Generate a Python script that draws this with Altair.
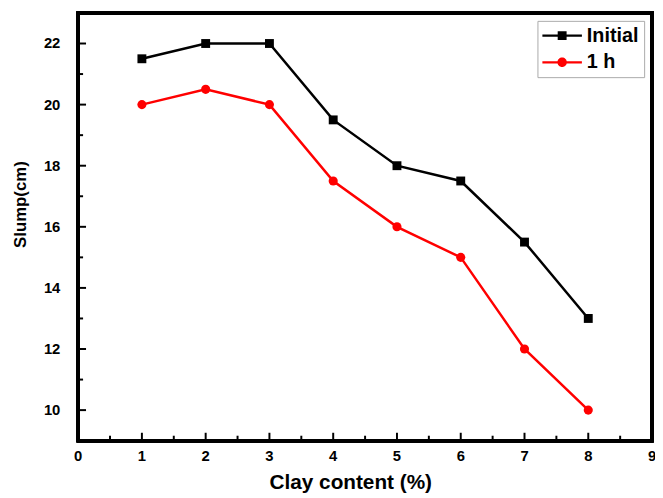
import altair as alt
import pandas as pd

# ---- data ----
clay = [1, 2, 3, 4, 5, 6, 7, 8]
initial = [21.5, 22, 22, 19.5, 18, 17.5, 15.5, 13]
one_h = [20, 20.5, 20, 17.5, 16, 15, 12, 10]
series_names = ["Initial", "1 h"]
series_colors = ["#000000", "#ff0000"]

x_label_values = [0, 1, 2, 3, 4, 5, 6, 7, 8, 9]
x_minor_values = [0.5, 1.5, 2.5, 3.5, 4.5, 5.5, 6.5, 7.5, 8.5]
y_label_values = [10, 12, 14, 16, 18, 20, 22]
y_minor_values = [11, 13, 15, 17, 19, 21, 23]
x_title = ["Clay content (%)"]
y_title = ["Slump(cm)"]

df = pd.DataFrame({
    "clay": clay + clay,
    "slump": initial + one_h,
    "series": ["Initial"] * len(clay) + ["1 h"] * len(clay),
})
df["lg"] = df["series"]

FONT = "Liberation Sans"
W, H = 581, 433

xs = alt.Scale(domain=[0, 9], nice=False, zero=False)
ys = alt.Scale(domain=[9, 23], nice=False, zero=False)
cs = alt.Scale(domain=series_names, range=series_colors)

# legend symbols: line segment with marker in the middle
sym_square = "M-1,-0.12H3V0.12H-1Z M0.55,-0.45H1.45V0.45H0.55Z"
sym_circle = "M-1,-0.12H3V0.12H-1Z M1.48,0A0.48,0.48 0 1,1 0.52,0A0.48,0.48 0 1,1 1.48,0Z"

leg = alt.Legend(
    title=None, orient="none", legendX=465, legendY=8,
    symbolSize=400, symbolOpacity=1, symbolStrokeWidth=0,
    labelFont=FONT, labelFontSize=20, labelFontWeight="bold", labelColor="black",
    labelOffset=25, rowPadding=7, padding=5, labelLimit=300,
    strokeColor="#aaaaaa", fillColor="white",
)

X = alt.X("clay:Q", scale=xs, axis=None)
Y = alt.Y("slump:Q", scale=ys, axis=None)

base = alt.Chart(df)

frame = base.mark_rect(fill=None, stroke="black", strokeWidth=3).encode(
    x=alt.value(0), x2=alt.value(W), y=alt.value(0), y2=alt.value(H)
)

lines = base.mark_line(strokeWidth=2.5).encode(
    x=X, y=Y,
    color=alt.Color("series:N", scale=cs, legend=None),
    order="clay:Q",
)

squares = base.transform_filter(alt.datum.series == "Initial").mark_square(
    size=81, opacity=1
).encode(
    x=X, y=Y,
    color=alt.Color("series:N", scale=cs, legend=None),
)

circles = base.transform_filter(alt.datum.series == "1 h").mark_circle(
    size=85, opacity=1
).encode(
    x=X, y=Y,
    color=alt.Color("series:N", scale=cs, legend=None),
)


def xticks(values, length):
    return alt.Chart(pd.DataFrame({"v": values})).mark_rule(
        color="black", strokeWidth=2
    ).encode(
        x=alt.X("v:Q", scale=xs, axis=None),
        y=alt.value(H), y2=alt.value(H - length),
    )


def yticks(values, length):
    return alt.Chart(pd.DataFrame({"v": values})).mark_rule(
        color="black", strokeWidth=2
    ).encode(
        y=alt.Y("v:Q", scale=ys, axis=None),
        x=alt.value(0), x2=alt.value(length),
    )


x_labels = alt.Chart(pd.DataFrame({"xl": x_label_values})).mark_text(
    font=FONT, fontSize=15, fontWeight="bold", color="black",
    align="center", baseline="top",
).encode(
    x=alt.X("xl:Q", scale=xs, axis=None), y=alt.value(H + 9),
    text=alt.Text("xl:Q", format="d"),
)

y_labels = alt.Chart(pd.DataFrame({"yl": y_label_values})).mark_text(
    font=FONT, fontSize=15, fontWeight="bold", color="black",
    align="right", baseline="middle",
).encode(
    y=alt.Y("yl:Q", scale=ys, axis=None), x=alt.value(-18),
    text=alt.Text("yl:Q", format="d"),
)

x_title_layer = alt.Chart(pd.DataFrame({"t": x_title})).mark_text(
    font=FONT, fontSize=21, fontWeight="bold", color="black",
    align="center", baseline="middle",
).encode(
    x=alt.value(276), y=alt.value(H + 43), text="t:N",
)

y_title_layer = alt.Chart(pd.DataFrame({"t": y_title})).mark_text(
    font=FONT, fontSize=17, fontWeight="bold", color="black",
    align="center", baseline="middle", angle=270,
).encode(
    x=alt.value(-58), y=alt.value(194), text="t:N",
)

legend_layer = base.mark_point(filled=True, opacity=0, size=400).encode(
    x=X, y=Y,
    color=alt.Color("lg:N", scale=alt.Scale(domain=series_names, range=series_colors),
                    legend=leg),
    shape=alt.Shape("lg:N",
                    scale=alt.Scale(domain=series_names, range=[sym_square, sym_circle]),
                    legend=leg),
)

chart = alt.layer(
    lines, squares, circles,
    xticks(x_label_values, 8), xticks(x_minor_values, 5),
    yticks(y_label_values, 8), yticks(y_minor_values, 5),
    frame, x_labels, y_labels, x_title_layer, y_title_layer, legend_layer,
).resolve_scale(
    color="independent", shape="independent"
).properties(
    width=W, height=H,
    autosize=alt.AutoSizeParams(type="none"),
    padding={"left": 71, "top": 2, "right": 3, "bottom": 53},
).configure_view(strokeWidth=0)

chart.save("out.html", embed_options={"renderer": "svg", "actions": False})
